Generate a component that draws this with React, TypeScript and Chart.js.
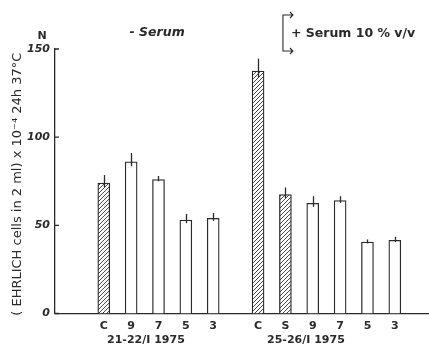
import React, { useEffect, useRef } from "react";
import { Chart, registerables } from "chart.js";

Chart.register(...registerables);

// ---- data ----
const categories = ["C", "9", "7", "5", "3", "C", "S", "9", "7", "5", "3"];
const positions = [0, 1, 2, 3, 4, 5.64, 6.64, 7.64, 8.64, 9.64, 10.64];
const values = [74, 86, 76, 53, 54, 137.5, 67.5, 62.5, 64, 40.5, 41.5];
const errors = [4.5, 5, 2, 3.5, 3, 7, 4, 4, 2.5, 1.5, 2];
const hatched = [true, false, false, false, false, true, true, false, false, false, false];
const groupLabels = ["21-22/I 1975", "25-26/I 1975"];
const groupLabelAt = [1.54, 7.39];
const yTicks = [0, 50, 100, 150];
const yTitle = "( EHRLICH cells in 2 ml) x 10\u207B\u2074 24h 37\u00B0C";
const leftNote = "- Serum";
const rightNote = "+ Serum 10 % v/v";

const INK = "#2a2a2a";
const FONT = "'DejaVu Sans', sans-serif";

function makeHatch(): CanvasPattern | string {
  const c = document.createElement("canvas");
  c.width = 4;
  c.height = 4;
  const g = c.getContext("2d");
  if (!g) return "#ccc";
  g.fillStyle = "#ffffff";
  g.fillRect(0, 0, 4, 4);
  g.strokeStyle = "#333";
  g.lineWidth = 0.9;
  g.beginPath();
  g.moveTo(0, 4);
  g.lineTo(4, 0);
  g.moveTo(-1, 1);
  g.lineTo(1, -1);
  g.moveTo(3, 5);
  g.lineTo(5, 3);
  g.stroke();
  const p = g.createPattern(c, "repeat");
  return p || "#ccc";
}

const annotate = {
  id: "annotate",
  afterDatasetsDraw(chart: any) {
    const ctx = chart.ctx as CanvasRenderingContext2D;
    const xs = chart.scales.x;
    const ys = chart.scales.y;
    const area = chart.chartArea;
    ctx.save();
    ctx.strokeStyle = INK;
    ctx.fillStyle = INK;
    ctx.lineWidth = 1.3;
    // error bars
    values.forEach((v, i) => {
      const px = Math.round(xs.getPixelForValue(positions[i])) + 0.5;
      ctx.beginPath();
      ctx.moveTo(px, ys.getPixelForValue(v - errors[i] * 0.5));
      ctx.lineTo(px, ys.getPixelForValue(v + errors[i]));
      ctx.stroke();
    });
    // inward y ticks
    ctx.beginPath();
    yTicks.forEach((t) => {
      const py = ys.getPixelForValue(t);
      ctx.moveTo(area.left, py);
      ctx.lineTo(area.left + 4, py);
    });
    ctx.stroke();
    // group labels
    ctx.font = `bold 11px ${FONT}`;
    ctx.textAlign = "center";
    ctx.textBaseline = "middle";
    groupLabels.forEach((l, i) => {
      ctx.fillText(l, xs.getPixelForValue(groupLabelAt[i]), area.bottom + 27);
    });
    // N
    ctx.font = `bold 11px ${FONT}`;
    ctx.fillText("N", area.left - 13, area.top - 13);
    // y title
    ctx.save();
    ctx.translate(18, (area.top + area.bottom) / 2 + 3);
    ctx.rotate(-Math.PI / 2);
    ctx.font = `13px ${FONT}`;
    ctx.fillText(yTitle, 0, 0);
    ctx.restore();
    // top notes
    const noteY = area.top - 16;
    ctx.font = `italic bold 12.5px ${FONT}`;
    ctx.fillText(leftNote, xs.getPixelForValue(1.95), noteY);
    const bx = xs.getPixelForValue(6.55);
    ctx.textAlign = "left";
    ctx.font = `bold 12.5px ${FONT}`;
    ctx.fillText(rightNote, bx + 8, noteY + 1);
    // bracket with arrows
    const t = noteY - 18;
    const b = noteY + 18;
    ctx.lineWidth = 1.1;
    ctx.beginPath();
    ctx.moveTo(bx + 10, t);
    ctx.lineTo(bx, t);
    ctx.lineTo(bx, b);
    ctx.lineTo(bx + 10, b);
    ctx.moveTo(bx + 7, t - 3);
    ctx.lineTo(bx + 10, t);
    ctx.lineTo(bx + 7, t + 3);
    ctx.moveTo(bx + 7, b - 3);
    ctx.lineTo(bx + 10, b);
    ctx.lineTo(bx + 7, b + 3);
    ctx.stroke();
    ctx.restore();
  },
};

export default function App() {
  const ref = useRef<HTMLCanvasElement>(null);
  useEffect(() => {
    if (!ref.current) return;
    const hatch = makeHatch();
    const chart = new Chart(ref.current, {
      type: "bar",
      data: {
        datasets: [
          {
            data: values.map((v, i) => ({ x: positions[i], y: v })),
            backgroundColor: hatched.map((h) => (h ? hatch : "#ffffff")) as any,
            borderColor: INK,
            borderWidth: 1.3,
            borderSkipped: "bottom",
            barThickness: 12,
          },
        ],
      },
      options: {
        animation: false,
        responsive: false,
        devicePixelRatio: 1,
        layout: { padding: { top: 49, right: 0, left: 0, bottom: 0 } },
        plugins: { legend: { display: false }, tooltip: { enabled: false } },
        scales: {
          x: {
            type: "linear",
            offset: false,
            min: -1.784,
            max: 11.89,
            afterBuildTicks: (scale: any) => {
              scale.ticks = positions.map((p) => ({ value: p }));
            },
            afterFit: (scale: any) => {
              scale.height = 37.5;
            },
            ticks: {
              autoSkip: false,
              maxRotation: 0,
              padding: 6,
              color: INK,
              font: { family: FONT, size: 11, weight: "bold" },
              callback: (_v: any, i: number) => categories[i],
            },
            grid: { display: false, drawTicks: false },
            border: { display: true, color: INK, width: 1.3 },
          },
          y: {
            min: 0,
            max: 150,
            afterBuildTicks: (scale: any) => {
              scale.ticks = yTicks.map((v) => ({ value: v }));
            },
            afterFit: (scale: any) => {
              scale.width = 55;
            },
            ticks: {
              padding: 5,
              color: INK,
              font: { family: FONT, size: 11, weight: "bold", style: "italic" },
            },
            grid: { display: false, drawTicks: false },
            border: { display: true, color: INK, width: 1.3 },
          },
        },
      },
      plugins: [annotate],
    } as any);
    return () => chart.destroy();
  }, []);
  return (
    <canvas
      ref={ref}
      width={429}
      height={351}
      style={{ position: "fixed", left: 0, top: 0, width: 429, height: 351 }}
    />
  );
}
